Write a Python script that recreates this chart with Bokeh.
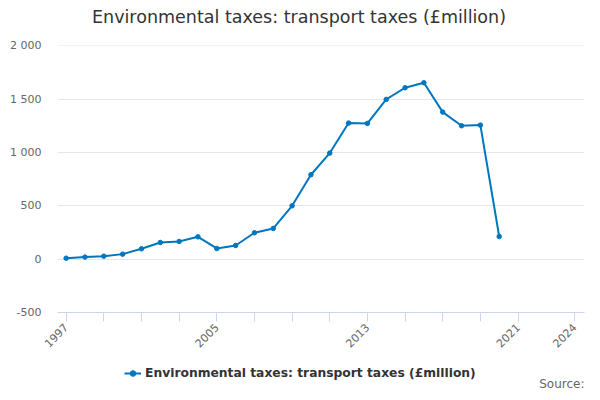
from bokeh.plotting import figure
from bokeh.models import FixedTicker, Legend, LegendItem, Label, Range1d
from bokeh.layouts import column
from bokeh.embed import file_html
from bokeh.resources import INLINE
import math

years = list(range(1997, 2021))
values = [9, 19, 28, 47, 97, 156, 166, 209, 100, 128, 247, 288, 500,
          791, 994, 1275, 1272, 1497, 1606, 1653, 1378, 1250, 1256, 212]

x_ticks = list(range(1997, 2022, 2)) + [2024]
x_labels_shown = [1997, 2005, 2013, 2021, 2024]
y_ticks = [-500, 0, 500, 1000, 1500, 2000]
y_labels = ["-500", "0", "500", "1 000", "1 500", "2 000"]

title_text = "Environmental taxes: transport taxes (£million)"
series_name = "Environmental taxes: transport taxes (£million)"
source_text = "Source:"

LINE = "#0076bf"
FONT = "DejaVu Sans"
W = 592
LEFT, RIGHT = 57, 8


def strip(h):
    f = figure(width=W, height=h, output_backend="svg", toolbar_location=None,
               x_range=Range1d(0, 1), y_range=Range1d(0, 1),
               min_border_left=LEFT, min_border_right=RIGHT,
               min_border_top=0, min_border_bottom=0)
    f.axis.visible = False
    f.grid.visible = False
    f.outline_line_color = None
    f.background_fill_color = "white"
    f.border_fill_color = "white"
    return f


# ---- title strip ----
t = strip(30)
t.add_layout(Label(x=241.5, y=14, x_units="screen", y_units="screen",
                   text=title_text, text_align="center", text_baseline="alphabetic",
                   text_font=FONT, text_font_size="17.5px", text_color="#333333"))

# ---- main chart ----
p = figure(width=W, height=328, output_backend="svg", toolbar_location=None,
           x_range=(1996.54, 2024.53), y_range=(-500, 2002),
           min_border_left=LEFT, min_border_right=RIGHT, min_border_top=15,
           min_border_bottom=46)
p.outline_line_color = None
p.background_fill_color = "white"
p.border_fill_color = "white"

p.line(years, values, line_color=LINE, line_width=2)
p.scatter(years, values, size=4.5, fill_color=LINE, line_color=LINE)

p.xgrid.grid_line_color = None
p.ygrid.grid_line_color = "#e6e6e6"
p.ygrid.ticker = FixedTicker(ticks=y_ticks)

xa = p.xaxis[0]
xa.ticker = FixedTicker(ticks=x_ticks, minor_ticks=[])
xa.major_label_overrides = {tk: (str(tk) if tk in x_labels_shown else "") for tk in x_ticks}
xa.axis_line_color = "#ccd6eb"
xa.major_tick_line_color = "#ccd6eb"
xa.major_tick_in = 0
xa.major_tick_out = 9
xa.minor_tick_line_color = None
xa.major_label_orientation = math.pi / 4
xa.major_label_text_font = FONT
xa.major_label_text_font_size = "11px"
xa.major_label_text_color = "#666666"
xa.major_label_standoff = 4

ya = p.yaxis[0]
ya.ticker = FixedTicker(ticks=y_ticks, minor_ticks=[])
ya.major_label_overrides = {tk: l for tk, l in zip(y_ticks, y_labels)}
ya.axis_line_color = None
ya.major_tick_line_color = None
ya.minor_tick_line_color = None
ya.major_label_text_font = FONT
ya.major_label_text_font_size = "11px"
ya.major_label_text_color = "#666666"
ya.major_label_standoff = 10

# ---- legend + source strip ----
q = strip(34)
# same series, outside the strip's visible range: only its legend glyph shows
lr = q.line(years, values, line_color=LINE, line_width=2)
ls = q.scatter(years, values, size=4.5, fill_color=LINE, line_color=LINE)

legend = Legend(items=[LegendItem(label=series_name, renderers=[lr, ls])],
                location=(67, 12), orientation="horizontal",
                padding=0, margin=0, spacing=0,
                glyph_width=17, glyph_height=14, label_height=14,
                label_standoff=4, border_line_color=None,
                background_fill_alpha=0,
                label_text_font=FONT, label_text_font_size="12.3px",
                label_text_font_style="bold", label_text_color="#333333")
q.add_layout(legend, "center")

q.add_layout(Label(x=527, y=9, x_units="screen", y_units="screen",
                   text=source_text, text_align="right", text_baseline="alphabetic",
                   text_font=FONT, text_font_size="12px", text_color="#666666"))

layout = column(t, p, q, spacing=0)
open("out.html", "w").write(file_html(layout, INLINE))
